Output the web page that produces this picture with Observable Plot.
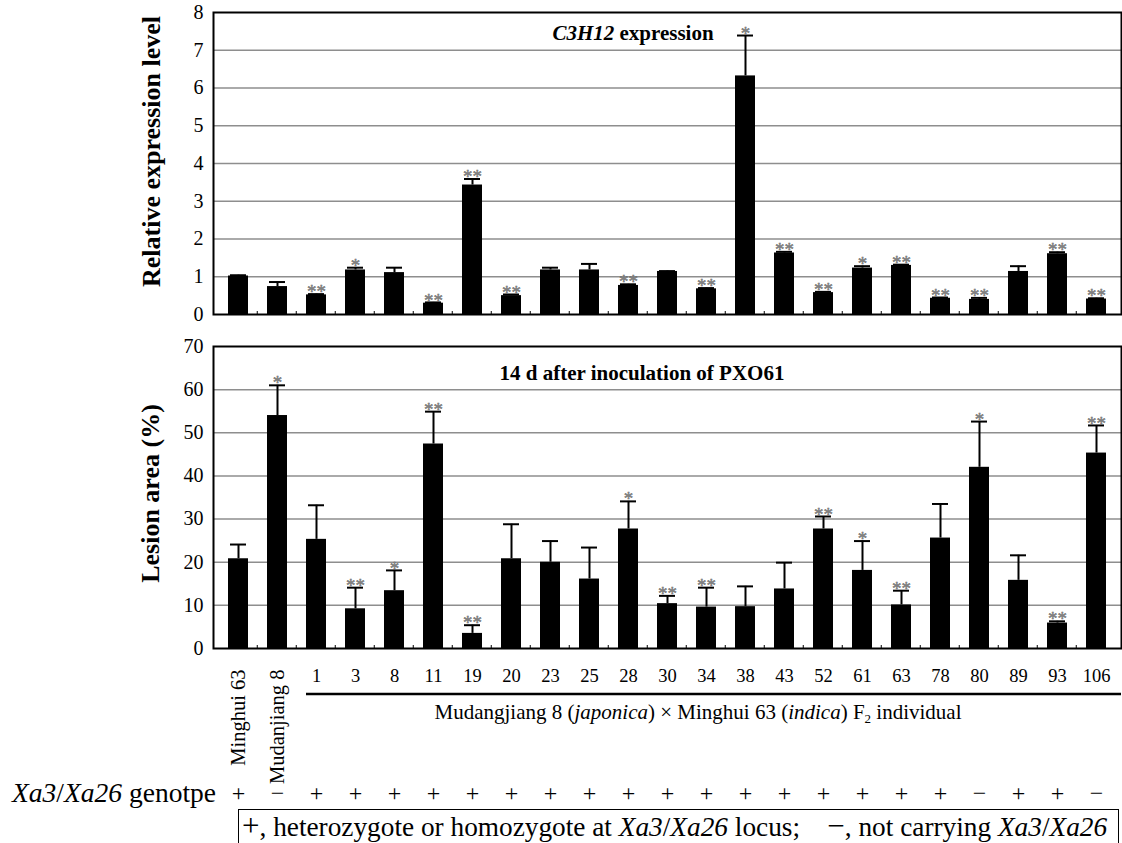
<!DOCTYPE html>
<html><head><meta charset="utf-8">
<script src="https://cdn.jsdelivr.net/npm/d3@7"></script>
<script src="https://cdn.jsdelivr.net/npm/@observablehq/plot@0.6"></script>
<style>
body{margin:0;background:#fff;}
#wrap{position:relative;width:1122px;height:843px;overflow:hidden;font-family:"Liberation Serif","Times New Roman",serif;color:#000;}
#wrap svg{position:absolute;left:0;overflow:visible;}
.abs{position:absolute;white-space:nowrap;}
.c{transform:translate(-50%,-50%);}
</style></head><body><div id="wrap"></div>
<script>
// ---- data ----
const samples = ["Minghui 63","Mudanjiang 8","1","3","8","11","19","20","23","25","28","30","34","38","43","52","61","63","78","80","89","93","106"];
const exprValue = [1.02,0.74,0.52,1.18,1.11,0.30,3.43,0.50,1.18,1.18,0.77,1.14,0.68,6.32,1.63,0.58,1.23,1.30,0.43,0.40,1.14,1.61,0.41];
const exprErr   = [0.02,0.12,0.02,0.06,0.13,0.02,0.16,0.03,0.06,0.16,0.03,0.01,0.02,1.07,0.03,0.02,0.05,0.02,0.02,0.04,0.14,0.04,0.02];
const exprSig   = ["","","**","*","","**","**","**","","","**","","**","*","**","**","*","**","**","**","","**","**"];
const lesionValue = [20.8,54.0,25.3,9.2,13.4,47.4,3.5,20.8,20.0,16.1,27.7,10.4,9.6,9.7,13.8,27.7,18.1,10.1,25.6,42.0,15.8,5.9,45.3];
const lesionErr   = [3.3,7.0,7.9,4.9,4.7,7.5,1.9,8.0,4.9,7.3,6.4,1.8,4.5,4.7,6.1,2.9,6.8,3.3,7.9,10.6,5.8,0.4,6.4];
const lesionSig   = ["","*","","**","*","**","**","","","","*","**","**","","","**","*","**","","*","","**","**"];
const genotype    = ["+","−","+","+","+","+","+","+","+","+","+","+","+","+","+","+","+","+","+","−","+","+","−"];
const exprTicks   = [0,1,2,3,4,5,6,7,8];
const lesionTicks = [0,10,20,30,40,50,60,70];
const parents     = ["Minghui 63","Mudanjiang 8"];

const rows1 = samples.map((s,i)=>({s, v:exprValue[i], e:exprErr[i], sig:exprSig[i]}));
const rows2 = samples.map((s,i)=>({s, v:lesionValue[i], e:lesionErr[i], sig:lesionSig[i], g:genotype[i]}));

const FONT = "'Liberation Serif', 'Times New Roman', serif";
const xOpts = {type:"band", domain:samples, paddingInner:0.5, paddingOuter:0.25, axis:null};

function panel(rows, ticks, yMax, title, opts){
  return Plot.plot({
    width:1122, height:opts.height, marginTop:opts.mt, marginBottom:opts.mb, marginLeft:213, marginRight:1,
    style:{fontFamily:FONT, fontSize:"18px", background:"transparent", color:"#000", overflow:"visible"},
    x:xOpts,
    y:{domain:[0,yMax], axis:null},
    marks:[
      Plot.ruleY(ticks.filter(t=>t>0 && t<yMax), {stroke:"#8e8e8e", strokeWidth:1.5}),
      Plot.barY(rows, {x:"s", y:"v", fill:"black"}),
      Plot.ruleX(rows, {x:"s", y1:"v", y2:d=>d.v+d.e, stroke:"black", strokeWidth:2}),
      Plot.tickY(rows, {x:"s", y:d=>d.v+d.e, stroke:"black", strokeWidth:2, insetLeft:2, insetRight:2}),
      Plot.text(rows, {x:"s", y:d=>d.v+d.e, text:"sig", fill:"#808080", stroke:"#555", strokeWidth:0.4, fontSize:19, lineAnchor:"middle", dy:-2}),
      Plot.axisY({ticks, tickSize:0, tickPadding:10, fontSize:20, label:null, fontFamily:FONT}),
      Plot.frame({stroke:"black", strokeWidth:2}),
      Plot.text([title], {frameAnchor:"left", rotate:-90, textAnchor:"middle", dx:opts.tdx, dy:opts.tdy, fontSize:26, fontWeight:"bold"}),
      ...(opts.extra||[])
    ]
  });
}

const wrap = document.getElementById("wrap");

const p1 = panel(rows1, exprTicks, 8, "Relative expression level", {height:330, mt:12, mb:16, tdx:-62, tdy:-12});
p1.style.top = "0px";
wrap.appendChild(p1);

const f2 = rows2.filter(d=>!parents.includes(d.s));
const par = rows2.filter(d=>parents.includes(d.s));
const p2 = panel(rows2, lesionTicks, 70, "Lesion area (%)", {height:513, mt:16, mb:195, tdx:-63, tdy:-4,
  extra:[
    Plot.text(f2, {x:"s", frameAnchor:"bottom", text:"s", fontSize:18.5, lineAnchor:"middle", dy:28}),
    Plot.text(par, {x:"s", frameAnchor:"bottom", text:"s", fontSize:20.5, rotate:-90, textAnchor:"end", lineAnchor:"middle", dy:21}),
    Plot.text(rows2, {x:"s", frameAnchor:"bottom", text:"g", fontSize:24, lineAnchor:"middle", dy:145})
  ]});
p2.style.top = "330px";
wrap.appendChild(p2);

// category boundary ticks and F2 underline drawn through the plots' own scales
function addTicks(p){
  const xs = p.scale("x"), ys = p.scale("y");
  const step = xs.step ?? xs.bandwidth*2;
  const y0 = ys.apply(0);
  const svg = d3.select(p.tagName.toLowerCase()==="svg" ? p : p.querySelector("svg"));
  samples.slice(1).forEach(s=>{
    const bx = xs.apply(s) - step*0.25;
    svg.append("line").attr("x1",bx).attr("x2",bx).attr("y1",y0).attr("y2",y0-3).attr("stroke","black").attr("stroke-width",1);
  });
  return {xs, ys, svg, y0};
}
addTicks(p1);
const t2 = addTicks(p2);
const xEnd = t2.xs.range[1];
t2.svg.append("line").attr("x1", t2.xs.apply("1")).attr("x2", xEnd)
  .attr("y1", t2.y0+46).attr("y2", t2.y0+46).attr("stroke","black").attr("stroke-width",2.5);

// annotations
function addDiv(html, style, cls){
  const d = document.createElement("div");
  d.className = "abs " + (cls||"");
  d.innerHTML = html;
  Object.assign(d.style, style);
  wrap.appendChild(d);
}
addDiv("<b><i>C3H12</i> expression</b>", {left:"633px", top:"33px", fontSize:"21px"}, "c");
addDiv("<b>14 d after inoculation of PXO61</b>", {left:"642px", top:"373px", fontSize:"21px"}, "c");
addDiv("Mudangjiang 8 (<i>japonica</i>) × Minghui 63 (<i>indica</i>) F<sub style='font-size:13px;vertical-align:-4px'>2</sub> individual", {left:"698px", top:"713px", fontSize:"21px"}, "c");
addDiv("<i>Xa3</i>/<i>Xa26</i> genotpe", {right:"906px", top:"778px", fontSize:"27.5px", lineHeight:"30px"});
addDiv("<span style='font-size:31px'>+</span>, heterozygote or homozygote at <i>Xa3</i>/<i>Xa26</i> locus;&nbsp;&nbsp;&nbsp; <span style='font-size:31px'>−</span>, not carrying <i>Xa3</i>/<i>Xa26</i>",
  {left:"238px", top:"809px", width:"881px", height:"34px", border:"1.5px solid #000", borderBottom:"none", fontSize:"27.3px", lineHeight:"32px", paddingLeft:"3px", boxSizing:"border-box"});
</script>
</body></html>
